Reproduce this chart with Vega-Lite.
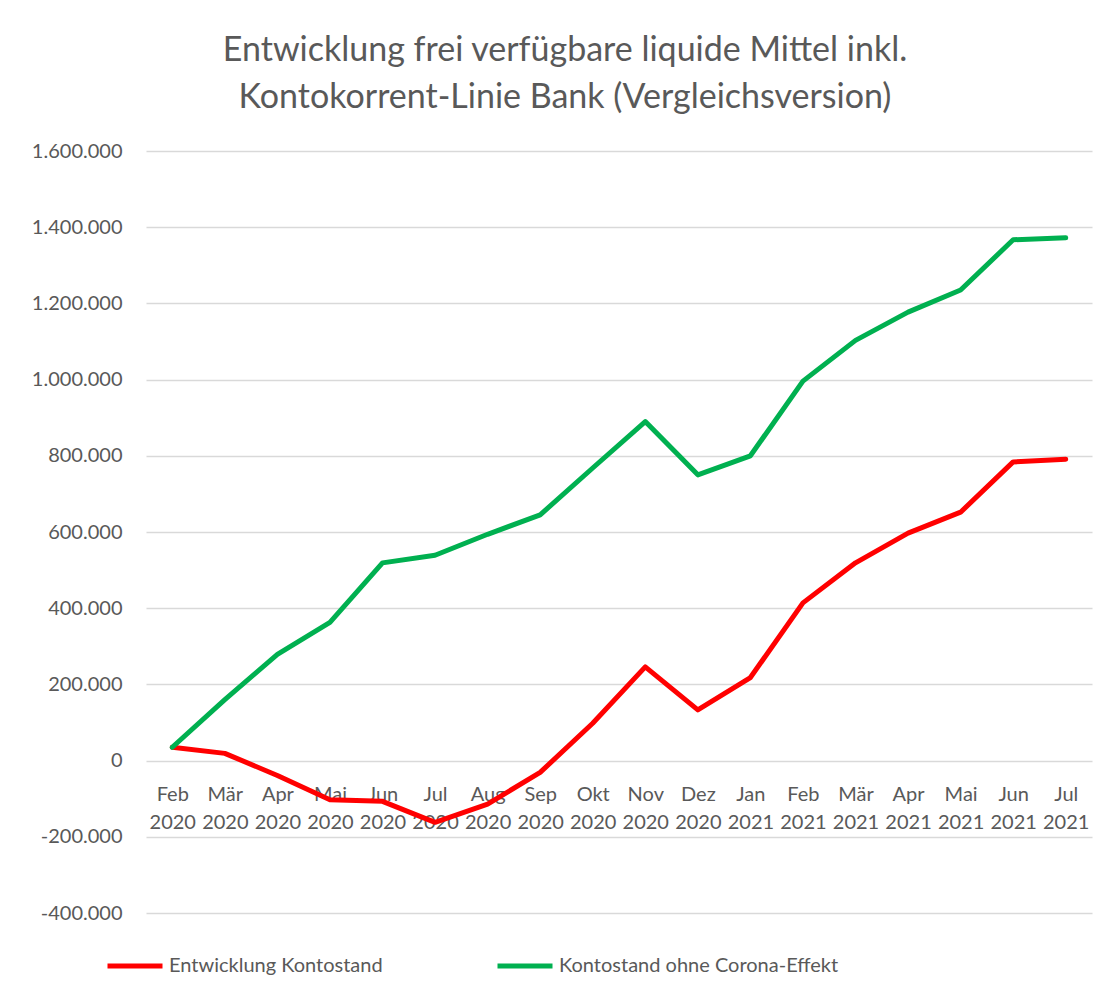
{
  "$schema": "https://vega.github.io/schema/vega-lite/v6.json",
  "autosize": "none",
  "width": 946,
  "height": 762,
  "padding": {"left": 146, "top": 151, "right": 17, "bottom": 86},
  "background": "white",
  "title": {
    "text": ["Entwicklung frei verfügbare liquide Mittel inkl.", "Kontokorrent-Linie Bank (Vergleichsversion)"],
    "anchor": "middle",
    "frame": "group",
    "dx": -54,
    "baseline": "bottom",
    "offset": -8,
    "lineHeight": 47,
    "font": "Lato",
    "fontSize": 34,
    "fontWeight": "normal",
    "color": "#595959"
  },
  "config": {
    "locale": {"number": {"decimal": ",", "thousands": ".", "grouping": [3], "currency": ["", " €"], "minus": "-"}},
    "view": {"stroke": null},
    "font": "Lato"
  },
  "data": {
    "values": [
      {"monat": "Feb 2020", "serie": "Entwicklung Kontostand", "wert": 35000},
      {"monat": "Mär 2020", "serie": "Entwicklung Kontostand", "wert": 19000},
      {"monat": "Apr 2020", "serie": "Entwicklung Kontostand", "wert": -39000},
      {"monat": "Mai 2020", "serie": "Entwicklung Kontostand", "wert": -103000},
      {"monat": "Jun 2020", "serie": "Entwicklung Kontostand", "wert": -107000},
      {"monat": "Jul 2020", "serie": "Entwicklung Kontostand", "wert": -162000},
      {"monat": "Aug 2020", "serie": "Entwicklung Kontostand", "wert": -114000},
      {"monat": "Sep 2020", "serie": "Entwicklung Kontostand", "wert": -31000},
      {"monat": "Okt 2020", "serie": "Entwicklung Kontostand", "wert": 98000},
      {"monat": "Nov 2020", "serie": "Entwicklung Kontostand", "wert": 246000},
      {"monat": "Dez 2020", "serie": "Entwicklung Kontostand", "wert": 133000},
      {"monat": "Jan 2021", "serie": "Entwicklung Kontostand", "wert": 218000},
      {"monat": "Feb 2021", "serie": "Entwicklung Kontostand", "wert": 414000},
      {"monat": "Mär 2021", "serie": "Entwicklung Kontostand", "wert": 519000},
      {"monat": "Apr 2021", "serie": "Entwicklung Kontostand", "wert": 597000},
      {"monat": "Mai 2021", "serie": "Entwicklung Kontostand", "wert": 652000},
      {"monat": "Jun 2021", "serie": "Entwicklung Kontostand", "wert": 784000},
      {"monat": "Jul 2021", "serie": "Entwicklung Kontostand", "wert": 791000},
      {"monat": "Feb 2020", "serie": "Kontostand ohne Corona-Effekt", "wert": 35000},
      {"monat": "Mär 2020", "serie": "Kontostand ohne Corona-Effekt", "wert": 160000},
      {"monat": "Apr 2020", "serie": "Kontostand ohne Corona-Effekt", "wert": 279000},
      {"monat": "Mai 2020", "serie": "Kontostand ohne Corona-Effekt", "wert": 363000},
      {"monat": "Jun 2020", "serie": "Kontostand ohne Corona-Effekt", "wert": 519000},
      {"monat": "Jul 2020", "serie": "Kontostand ohne Corona-Effekt", "wert": 539000},
      {"monat": "Aug 2020", "serie": "Kontostand ohne Corona-Effekt", "wert": 594000},
      {"monat": "Sep 2020", "serie": "Kontostand ohne Corona-Effekt", "wert": 645000},
      {"monat": "Okt 2020", "serie": "Kontostand ohne Corona-Effekt", "wert": 768000},
      {"monat": "Nov 2020", "serie": "Kontostand ohne Corona-Effekt", "wert": 890000},
      {"monat": "Dez 2020", "serie": "Kontostand ohne Corona-Effekt", "wert": 750000},
      {"monat": "Jan 2021", "serie": "Kontostand ohne Corona-Effekt", "wert": 800000},
      {"monat": "Feb 2021", "serie": "Kontostand ohne Corona-Effekt", "wert": 996000},
      {"monat": "Mär 2021", "serie": "Kontostand ohne Corona-Effekt", "wert": 1103000},
      {"monat": "Apr 2021", "serie": "Kontostand ohne Corona-Effekt", "wert": 1177000},
      {"monat": "Mai 2021", "serie": "Kontostand ohne Corona-Effekt", "wert": 1235000},
      {"monat": "Jun 2021", "serie": "Kontostand ohne Corona-Effekt", "wert": 1367000},
      {"monat": "Jul 2021", "serie": "Kontostand ohne Corona-Effekt", "wert": 1372000}
    ]
  },
  "mark": {"type": "line", "strokeWidth": 5, "strokeCap": "round", "strokeJoin": "round"},
  "encoding": {
    "x": {
      "field": "monat",
      "type": "ordinal",
      "sort": null,
      "scale": {"type": "point", "padding": 0.5},
      "axis": {
        "title": null,
        "domain": false,
        "ticks": false,
        "tickSize": 0,
        "grid": false,
        "offset": -152.4,
        "labelAngle": 0,
        "labelExpr": "split(datum.label, ' ')",
        "labelBaseline": "alphabetic",
        "labelPadding": 40,
        "labelLineHeight": 28,
        "labelFontSize": 20,
        "labelColor": "#595959",
        "labelFont": "Lato"
      }
    },
    "y": {
      "field": "wert",
      "type": "quantitative",
      "scale": {"domain": [-400000, 1600000], "nice": false, "zero": false},
      "axis": {
        "title": null,
        "values": [-400000, -200000, 0, 200000, 400000, 600000, 800000, 1000000, 1200000, 1400000, 1600000],
        "format": ",d",
        "domain": false,
        "ticks": false,
        "grid": true,
        "gridColor": "#D9D9D9",
        "gridWidth": 1.5,
        "labelPadding": 24,
        "labelFontSize": 20,
        "labelColor": "#595959",
        "labelFont": "Lato"
      }
    },
    "color": {
      "field": "serie",
      "type": "nominal",
      "scale": {"domain": ["Entwicklung Kontostand", "Kontostand ohne Corona-Effekt"], "range": ["#FF0000", "#00B050"]},
      "legend": {
        "title": null,
        "orient": "none",
        "direction": "horizontal",
        "columns": 2,
        "legendX": -41,
        "legendY": 785,
        "symbolType": "stroke",
        "symbolSize": 3025,
        "symbolStrokeWidth": 5,
        "labelFontSize": 20,
        "labelColor": "#595959",
        "labelFont": "Lato",
        "labelOffset": 4,
        "labelLimit": 400,
        "columnPadding": 104
      }
    }
  }
}
